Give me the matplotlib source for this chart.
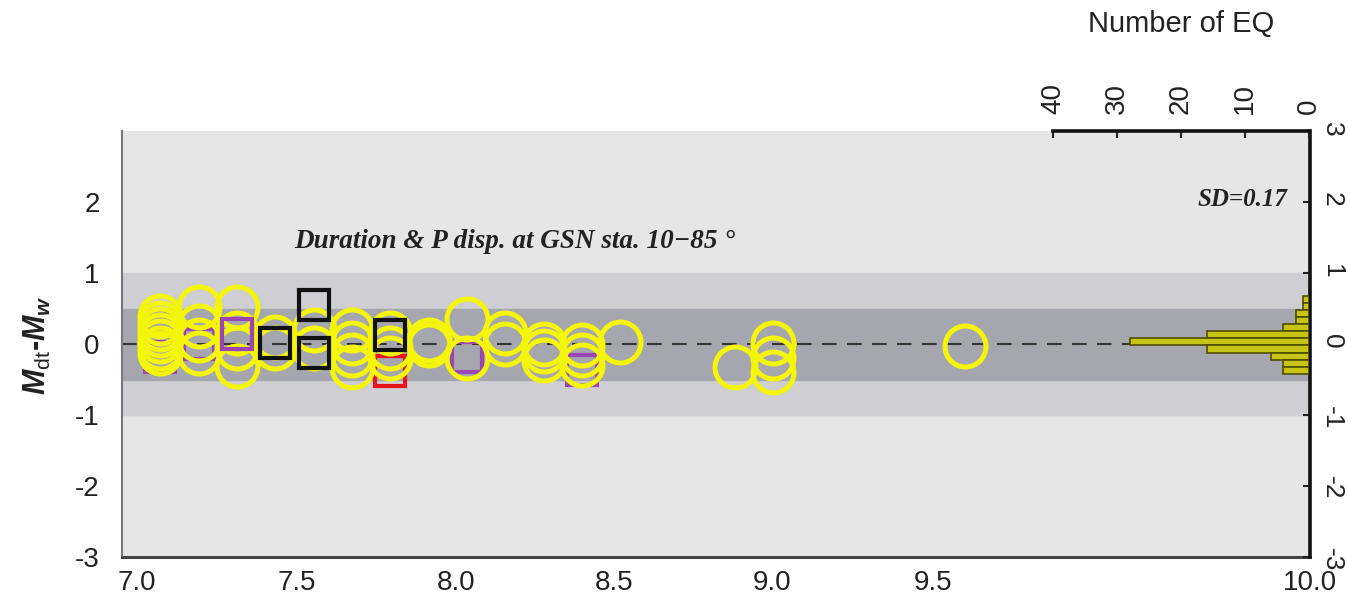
import matplotlib.pyplot as plt
import numpy as np

plt.rcParams['font.family'] = ['Liberation Sans', 'DejaVu Sans']
plt.rcParams['axes.unicode_minus'] = False
plt.rcParams['mathtext.fontset'] = 'custom'
plt.rcParams['mathtext.it'] = 'Liberation Sans:italic:bold'
plt.rcParams['mathtext.rm'] = 'Liberation Sans'

### data
# yellow circles: duration magnitude residual per event
circ_mw = [7.0, 7.0, 7.0, 7.0, 7.0, 7.0, 7.0,
           7.1, 7.1, 7.1, 7.1,
           7.2, 7.2, 7.2, 7.2,
           7.3, 7.3, 7.4, 7.4,
           7.5, 7.5, 7.5, 7.5,
           7.6, 7.6, 7.6, 7.7, 7.7,
           7.8, 7.8, 7.9, 7.9,
           8.0, 8.0, 8.0, 8.1, 8.1, 8.1,
           8.2, 8.5, 8.6, 8.6, 8.6, 9.1]
circ_res = [0.40, 0.30, 0.21, 0.12, 0.04, -0.05, -0.13,
            0.52, 0.25, 0.05, -0.12,
            0.52, 0.15, -0.05, -0.31,
            0.10, -0.05, 0.20, -0.05,
            0.20, 0.02, -0.15, -0.33,
            0.15, -0.05, -0.20, 0.05, -0.02,
            0.35, -0.20, 0.15, 0.0,
            0.0, -0.10, -0.22, -0.02, -0.15, -0.30,
            0.03, -0.33, 0.02, -0.20, -0.40, -0.03]

# squares partly hidden behind the circles
sq_low_mw = [7.0, 7.1, 7.8, 8.1, 7.6]
sq_low_res = [-0.18, 0.0, -0.18, -0.36, -0.38]
sq_low_col = ['#9b45b5', '#9b45b5', '#9b45b5', '#9b45b5', '#e8141c']

# squares drawn over the circles
sq_top_mw = [7.2, 7.3, 7.4, 7.4, 7.6]
sq_top_res = [0.14, 0.01, 0.55, -0.13, 0.13]
sq_top_col = ['#9b45b5', '#111111', '#111111', '#111111', '#111111']

# histogram of residuals (bin centre, number of EQ)
bin_centers = [0.63, 0.53, 0.43, 0.33, 0.23, 0.13, 0.03, -0.07, -0.17, -0.27, -0.37]
bin_counts = [1, 1, 2, 2, 4, 16, 28, 16, 6, 4, 4]

mag_tick_pos = [6.94, 7.357, 7.772, 8.184, 8.596, 9.016, 10.0]
mag_tick_lab = ['7.0', '7.5', '8.0', '8.5', '9.0', '9.5', '10.0']
res_ticks = [-3, -2, -1, 0, 1, 2]
count_ticks = [40, 30, 20, 10, 0]

### figure
W, H = 1348, 603
fig = plt.figure(figsize=(W / 100, H / 100), dpi=100)
box = [122 / W, 46 / H, 1188 / W, 426 / H]
ax = fig.add_axes(box)

ax.set_facecolor('#e6e6e6')
ax.axhspan(-1, 1, color='#cfcfd3', zorder=0)
ax.axhspan(-0.5, 0.5, color='#a6a6ae', zorder=0.5)
ax.axhline(0, color='#333333', lw=1.5, ls=(0, (7, 5)), zorder=1)

for m, r, c in zip(sq_low_mw, sq_low_res, sq_low_col):
    ax.plot(m, r, 's', ms=22, mfc='none', mec=c, mew=3, zorder=2)
ax.plot(circ_mw, circ_res, 'o', ms=29.5, mfc='none', mec='#f5f50a', mew=3.6,
        ls='none', zorder=3)
for m, r, c in zip(sq_top_mw, sq_top_res, sq_top_col):
    ax.plot(m, r, 's', ms=22, mfc='none', mec=c, mew=3, zorder=4)

ax.set_xlim(6.9, 10.0)
ax.set_ylim(-3, 3)
ax.set_xticks(mag_tick_pos)
ax.set_xticklabels(mag_tick_lab)
ax.set_yticks(res_ticks)
ax.tick_params(length=0, labelsize=20, colors='#222222')
ax.tick_params(axis='x', pad=9)
ax.tick_params(axis='y', pad=16)
ax.spines['top'].set_visible(False)
ax.spines['right'].set_visible(False)
ax.spines['left'].set_color('#777777')
ax.spines['left'].set_linewidth(1.5)
ax.spines['bottom'].set_color('#444444')
ax.spines['bottom'].set_linewidth(2.2)

ax.text(7.35, 1.45, 'Duration & P disp. at GSN sta. 10\u221285 \u00b0',
        family='Liberation Serif', weight='bold', style='italic',
        fontsize=19.5, color='#222222', va='center', ha='left')
ax.text(0.981, 2.04, 'SD=0.17', transform=ax.get_yaxis_transform(),
        family='Liberation Serif', weight='bold', style='italic',
        fontsize=18, color='#222222', va='center', ha='right')

# right-hand residual axis
axr = ax.twinx()
axr.set_ylim(-3, 3)
axr.set_yticks([-3, -2, -1, 0, 1, 2, 3])
axr.tick_params(axis='y', direction='in', length=5, width=1.5, labelsize=19,
                labelrotation=-90, pad=7, colors='#222222')
for s in ['top', 'left', 'bottom']:
    axr.spines[s].set_visible(False)
axr.spines['right'].set_linewidth(2.6)
axr.spines['right'].set_color('#111111')

# histogram of residuals, counts run leftward from the right edge
hx = fig.add_axes([1053 / W, 46 / H, 256 / W, 426 / H])
hx.patch.set_visible(False)
hx.barh(bin_centers, bin_counts, height=0.1, color='#c8c415',
        edgecolor='#4d4d00', lw=1.2)
hx.set_xlim(40, 0)
hx.set_ylim(-3, 3)
hx.set_yticks([])
hx.xaxis.tick_top()
hx.set_xticks(count_ticks)
hx.tick_params(axis='x', direction='in', length=5, width=1.5, labelsize=20,
               labelrotation=90, pad=12, colors='#222222')
for s in ['left', 'right', 'bottom']:
    hx.spines[s].set_visible(False)
hx.spines['top'].set_linewidth(2.6)
hx.spines['top'].set_color('#111111')

fig.text(1181 / W, 1 - 24 / H, 'Number of EQ', fontsize=21, ha='center',
         va='center', color='#222222')
fig.text(37 / W, 1 - 345 / H, r'$M_{\mathrm{dt}}$-$M_{w}$', fontsize=22,
         weight='bold', rotation=90, ha='center', va='center', color='#222222')

fig.savefig('out.png', dpi=100)
